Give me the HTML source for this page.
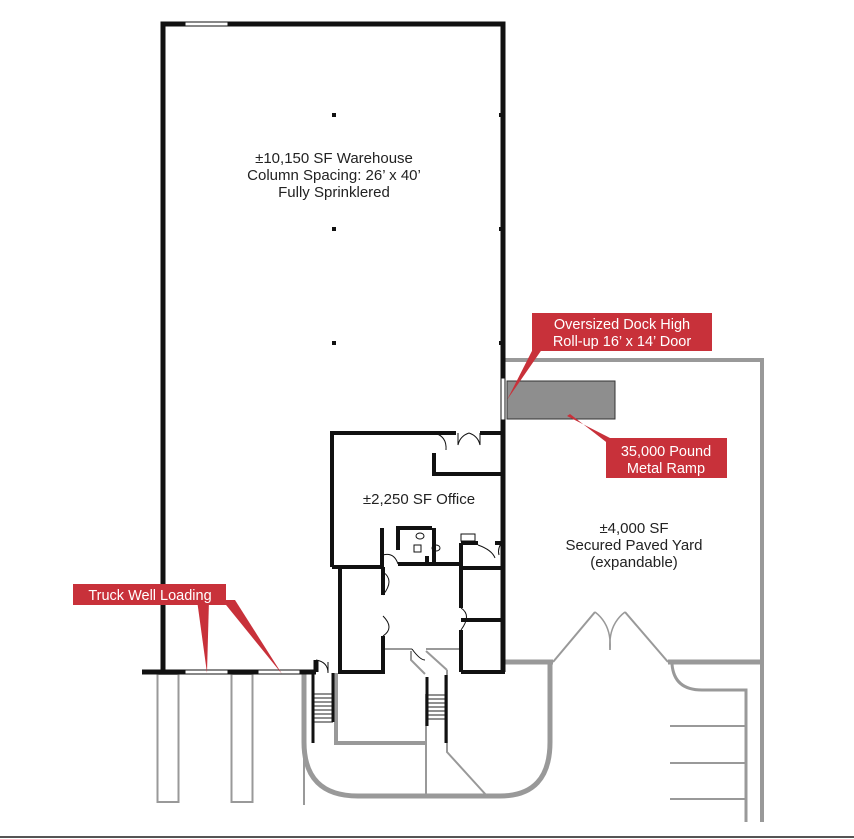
<!DOCTYPE html>
<html><head><meta charset="utf-8"><style>
html,body{margin:0;padding:0;background:#fff;}
svg{display:block;}
text{font-family:"Liberation Sans",sans-serif;}
</style></head><body>
<svg width="854" height="839" viewBox="0 0 854 839" xmlns="http://www.w3.org/2000/svg">
<rect width="854" height="839" fill="#fff"/>
<line x1="0" y1="837" x2="854" y2="837" stroke="#555" stroke-width="2"/>

<g stroke="#999" fill="none">
  <path d="M505 360 H762 V822" stroke-width="4"/>
  <path d="M505 662 H553" stroke-width="5"/>
  <path d="M668 662 H762" stroke-width="5"/>
  <path d="M553 662 L595 612" stroke-width="2"/>
  <path d="M668 662 L625 612" stroke-width="2"/>
  <path d="M595 612 Q612 625 610 650" stroke-width="1.5"/>
  <path d="M625 612 Q608 625 610 650" stroke-width="1.5"/>
  <path d="M672 664 Q674 690 702 690 H746 V822" stroke-width="3"/>
  <path d="M670 726 H746 M670 763 H746 M670 799 H746" stroke-width="2"/>
  <rect x="157.5" y="674" width="21" height="128" stroke-width="2"/>
  <rect x="231.5" y="674" width="21" height="128" stroke-width="2"/>
  <line x1="304" y1="674" x2="304" y2="805" stroke-width="2"/>
  <path d="M304 672 V742 Q304 796 358 796 H500 Q550 796 550 742 V662" stroke-width="5"/>
  <path d="M336 673 V743 H426" stroke-width="4"/>
  <line x1="426" y1="694" x2="426" y2="796" stroke-width="2"/>
  <path d="M447 670 V752 L487 796" stroke-width="2"/>
  <path d="M411 651 V660 L425 674" stroke-width="2"/>
  <path d="M426 651 L447 670" stroke-width="2"/>
  <path d="M383 649 H412 M426 649 H461" stroke-width="2"/>
</g>

<g stroke="#222" stroke-width="1">
  <path d="M313 694 H333 M313 698 H333 M313 702 H333 M313 706 H333 M313 710 H333 M313 714 H333 M313 718 H333 M313 722 H333"/>
  <path d="M427 695 H446 M427 699 H446 M427 703 H446 M427 707 H446 M427 711 H446 M427 715 H446 M427 719 H446"/>
</g>
<g stroke="#111" stroke-width="3" fill="none">
  <line x1="313" y1="673" x2="313" y2="743"/>
  <line x1="333" y1="673" x2="333" y2="722"/>
  <line x1="427" y1="677" x2="427" y2="726"/>
  <line x1="446" y1="675" x2="446" y2="743"/>
</g>

<rect x="507" y="381" width="108" height="38" fill="#8e8e8e" stroke="#333" stroke-width="1"/>

<g stroke="#111" fill="none" stroke-width="5">
  <path d="M163 672 V24 H503 V672"/>
  <path d="M142 672 H186 M228 672 H258 M300 672 H316"/>
  <path d="M316 672 V660"/>
</g>
<g stroke="#111" stroke-width="1" fill="#fff">
  <rect x="185" y="670" width="43" height="4"/>
  <rect x="258" y="670" width="42" height="4"/>
  <rect x="185" y="22" width="43" height="4"/>
  <rect x="501" y="378" width="4" height="42"/>
</g>
<path d="M316 660 Q328 662 328 673" stroke="#111" fill="none" stroke-width="1"/>
<line x1="328" y1="662" x2="328" y2="672" stroke="#111" stroke-width="1"/>

<g fill="#111">
  <rect x="332" y="113" width="4" height="4"/><rect x="332" y="227" width="4" height="4"/><rect x="332" y="341" width="4" height="4"/>
  <rect x="499" y="113" width="4" height="4"/><rect x="499" y="227" width="4" height="4"/><rect x="499" y="341" width="4" height="4"/>
</g>

<g stroke="#111" fill="none" stroke-width="4">
  <path d="M332 567 V433 H456 M480 433 H503"/>
  <path d="M434 453 V474 H503"/>
  <path d="M332 567 H382 V528"/>
  <path d="M398 550 V528 H432"/>
  <path d="M398 564 H462"/>
  <path d="M461 543 H478 M495 543 H503"/>
  <path d="M461 543 V608 M461 630 V672"/>
  <path d="M340 567 V672 H383 V636 M383 595 V567"/>
  <path d="M461 568 H503 M461 620 H503"/>
  <path d="M461 672 H505"/>
</g>
<g stroke="#111" fill="none" stroke-width="1">
  <path d="M434 433 Q447 436 446 450"/>
  <path d="M458 433 V445 Q460 436 469 433 M480 433 V445 Q478 436 469 433"/>
  <path d="M383 555 Q394 552 398 564"/>
  <path d="M478 545 Q492 550 495 558"/>
  <path d="M383 572 Q395 580 383 595"/>
  <path d="M383 616 Q395 628 383 636"/>
  <path d="M461 608 Q472 615 461 630"/>
  <path d="M412 649 Q420 660 425 660"/>
  <path d="M503 541 Q497 548 499 555"/>
</g>
<g stroke="#111" fill="#fff" stroke-width="1">
  <ellipse cx="420" cy="536" rx="4" ry="3"/>
  <rect x="414" y="545" width="7" height="7"/>
  <ellipse cx="436" cy="548" rx="4" ry="3"/>
  <rect x="461" y="534" width="14" height="7"/>
</g>
<g fill="#111"><rect x="432" y="528" width="4" height="36"/><rect x="425" y="556" width="4" height="8"/></g>

<g font-size="15" fill="#222" text-anchor="middle">
  <text x="334" y="163">±10,150 SF Warehouse</text>
  <text x="334" y="180">Column Spacing: 26’ x 40’</text>
  <text x="334" y="197">Fully Sprinklered</text>
  <text x="419" y="504">±2,250 SF Office</text>
  <text x="634" y="533">±4,000 SF</text>
  <text x="634" y="550">Secured Paved Yard</text>
  <text x="634" y="567">(expandable)</text>
</g>

<g fill="#c8313a">
  <polygon points="197,600 209,600 207,673"/>
  <polygon points="222,600 235,600 282,674"/>
  <polygon points="535,345 545,345 507,400"/>
  <polygon points="570,414 610,445 610,438 567,416"/>
  <rect x="73" y="584" width="153" height="21"/>
  <rect x="532" y="313" width="180" height="38"/>
  <rect x="606" y="438" width="121" height="40"/>
</g>
<g fill="#fff" font-size="14.5" text-anchor="middle">
  <text x="150" y="600">Truck Well Loading</text>
  <text x="622" y="329">Oversized Dock High</text>
  <text x="622" y="346">Roll-up 16’ x 14’ Door</text>
  <text x="666" y="456">35,000 Pound</text>
  <text x="666" y="473">Metal Ramp</text>
</g>
</svg>
</body></html>
